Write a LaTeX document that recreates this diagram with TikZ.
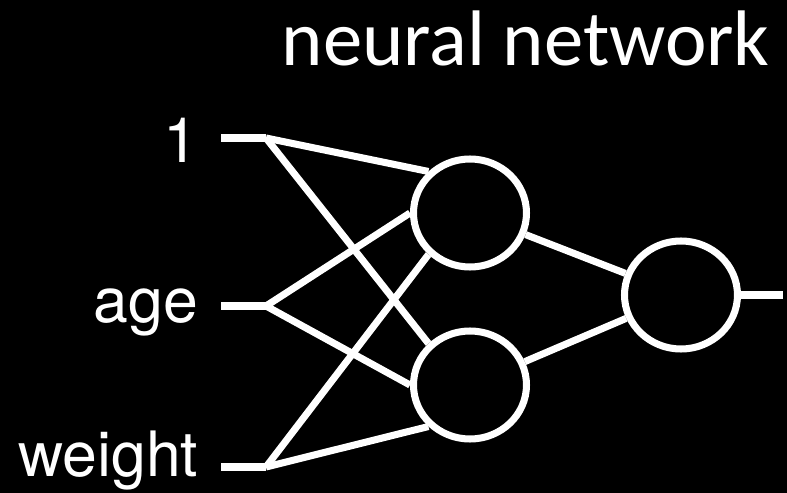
\documentclass[tikz,border=0pt]{standalone}
\usepackage{fontspec}
\newfontfamily\titlefont{Carlito}
\newfontfamily\labelfont{TeX Gyre Heros}
\usetikzlibrary{shapes.geometric,positioning}
\tikzset{line width=2pt,
  every node/.style={text=white},
  wire/.style={draw=white,line width=2pt},
  neuron/.style={ellipse,draw=white,line width=2pt,fill=black,inner sep=0pt,
    minimum width=1.13cm,minimum height=1.08cm},
  inlabel/.style={anchor=base east,inner sep=0pt,font=\labelfont\fontsize{17.8}{21}\selectfont},
  titlelabel/.style={anchor=base west,inner sep=0pt,font=\titlefont\fontsize{22.4}{26}\selectfont}}

\begin{document}
\begin{tikzpicture}
\fill[black,use as bounding box] (0,0) rectangle (7.87,4.93);

\node[titlelabel] (title) at (2.81,4.28) {neural network};

% inputs
\node[inlabel] (lab1) at (1.99,3.31) {1};
\node[inlabel] (lab2) at (1.99,1.71) {age};
\node[inlabel] (lab3) at (1.99,0.16) {weight};
\coordinate (t1) at (2.21,3.55);\coordinate (in1) at (2.66,3.55);
\coordinate (t2) at (2.21,1.87);\coordinate (in2) at (2.66,1.87);
\coordinate (t3) at (2.21,0.26);\coordinate (in3) at (2.66,0.26);

% neurons
\node[neuron] (h1) at (4.70,2.80) {};
\node[neuron] (h2) at (4.70,1.08) {};
\node[neuron] (out) at (6.81,1.98) {};
\coordinate (end) at (7.83,1.98);

\draw[wire] (t1)--(in1) (t2)--(in2) (t3)--(in3);
\draw[wire] (in1)--(h1.135) (in2)--(h1.180) (in3)--(h1.225);
\draw[wire] (in1)--(h2.135) (in2)--(h2.180) (in3)--(h2.225);
\draw[wire] (h1)--(out) (h2)--(out);
\draw[wire] (out.east)--(end);
\end{tikzpicture}
\end{document}
